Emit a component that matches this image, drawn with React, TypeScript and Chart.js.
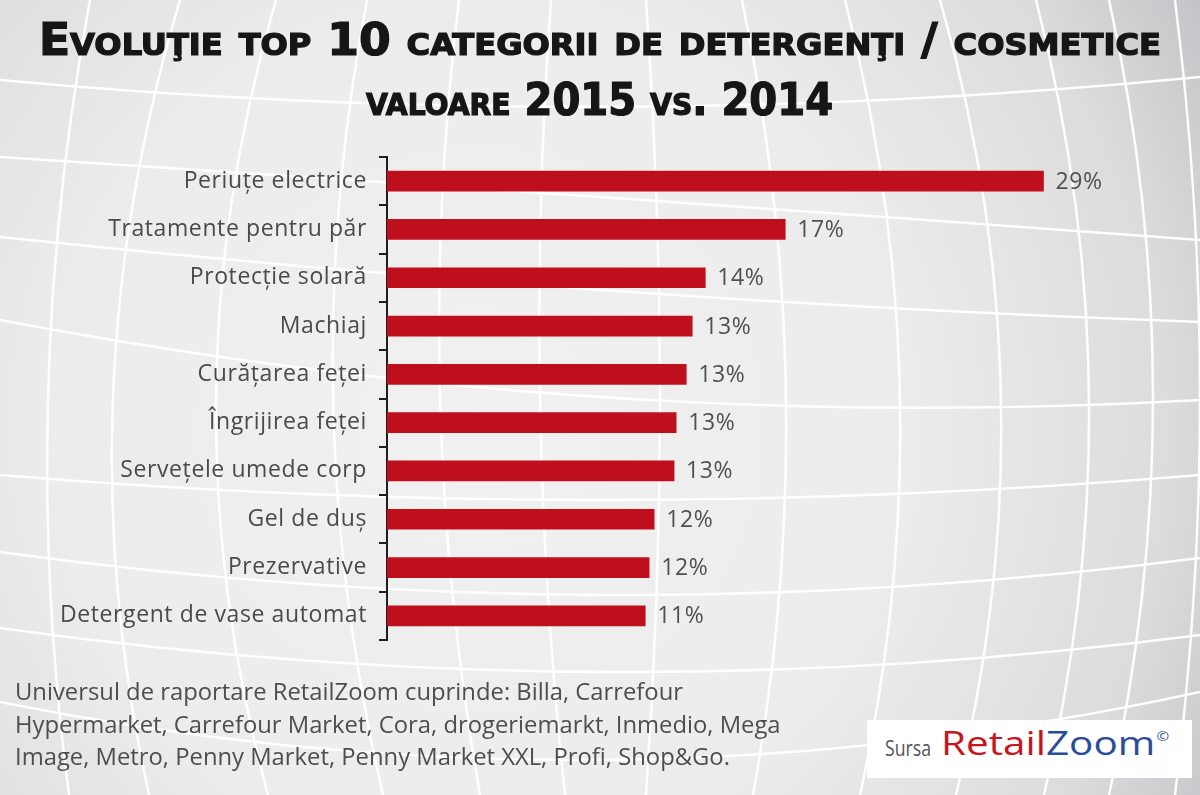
import React, { useEffect, useLayoutEffect, useRef } from "react";
import { Chart, registerables } from "chart.js";

Chart.register(...registerables);

// ---- data ----
const categories = [
  "Periuțe electrice",
  "Tratamente pentru păr",
  "Protecție solară",
  "Machiaj",
  "Curățarea feței",
  "Îngrijirea feței",
  "Servețele umede corp",
  "Gel de duș",
  "Prezervative",
  "Detergent de vase automat",
];
const values = [28.65, 17.38, 13.89, 13.32, 13.06, 12.62, 12.53, 11.66, 11.44, 11.27];
const valueLabels = ["29%", "17%", "14%", "13%", "13%", "13%", "13%", "12%", "12%", "11%"];
const titleLines = ["Evoluţie top 10 categorii de detergenţi / cosmetice", "valoare 2015 vs. 2014"];
const footnoteLines = [
  "Universul de raportare RetailZoom cuprinde: Billa, Carrefour",
  "Hypermarket, Carrefour Market, Cora, drogeriemarkt, Inmedio, Mega",
  "Image, Metro, Penny Market, Penny Market XXL, Profi, Shop&Go.",
];
const sourcePrefix = "Sursa";
const sourceBrandA = "Retail";
const sourceBrandB = "Zoom";

const LABEL_FONT = "'Open Sans', 'Noto Sans', sans-serif";

// decorative globe grid behind everything
const meridians: number[][] = [
  [90, 48, 69],
  [180, 113, 149],
  [276, 216, 268],
  [367, 333, 383],
  [459, 440, 480],
  [551, 540, 565],
  [646, 660, 646],
  [742, 786, 753],
  [845, 900, 860],
  [940, 1001, 956],
  [1036, 1089, 1044],
  [1109, 1153, 1109],
  [1175, 1200, 1175],
];
const parallels: number[][] = [
  [80, 107, 77],
  [157, 197, 240],
  [237, 290, 322],
  [320, 397, 400],
  [475, 500, 475],
  [552, 595, 558],
  [628, 672, 635],
  [702, 760, 692],
];

const backgroundPlugin = {
  id: "globeBackground",
  beforeDraw(chart: any) {
    const ctx = chart.ctx as any;
    const w = chart.width;
    const h = chart.height;
    ctx.save();
    const g = ctx.createRadialGradient(480, 430, 0, 480, 430, 860);
    g.addColorStop(0, "#f1f1f1");
    g.addColorStop(0.5, "#ececec");
    g.addColorStop(0.8, "#dcdcdd");
    g.addColorStop(1, "#bfc1c4");
    ctx.fillStyle = g;
    ctx.fillRect(0, 0, w, h);
    ctx.strokeStyle = "rgba(255,255,255,0.95)";
    ctx.lineWidth = 2.5;
    const mid = h / 2;
    meridians.forEach(([t, m, b]) => {
      const cx = 2 * m - (t + b) / 2;
      ctx.beginPath();
      ctx.moveTo(t, 0);
      ctx.quadraticCurveTo(cx, mid, b, h);
      ctx.stroke();
    });
    parallels.forEach(([l, m, r]) => {
      const cy = 2 * m - (l + r) / 2;
      ctx.beginPath();
      ctx.moveTo(0, l);
      ctx.quadraticCurveTo(w / 2, cy, w, r);
      ctx.stroke();
    });
    ctx.restore();
    // slightly wider lettering for the axis labels
    ctx.letterSpacing = "0.6px";
  },
};

const valueLabelPlugin = {
  id: "valueLabels",
  afterDatasetsDraw(chart: any) {
    const ctx = chart.ctx as any;
    const meta = chart.getDatasetMeta(0);
    ctx.save();
    ctx.letterSpacing = "0.6px";
    ctx.font = `23px ${LABEL_FONT}`;
    ctx.fillStyle = "#505050";
    ctx.textAlign = "left";
    ctx.textBaseline = "middle";
    meta.data.forEach((bar: any, i: number) => {
      ctx.fillText(valueLabels[i], bar.x + 12, bar.y + 1);
    });
    ctx.restore();
  },
};

function fitWidth(el: HTMLElement | null, target: number) {
  if (!el) return;
  const w = el.getBoundingClientRect().width;
  if (w > 0) el.style.transform = `scaleX(${target / w})`;
}

export default function App() {
  const canvasRef = useRef<HTMLCanvasElement | null>(null);
  const t1 = useRef<HTMLSpanElement | null>(null);
  const t2 = useRef<HTMLSpanElement | null>(null);
  const f1 = useRef<HTMLDivElement | null>(null);
  const s1 = useRef<HTMLSpanElement | null>(null);
  const s2 = useRef<HTMLSpanElement | null>(null);

  useLayoutEffect(() => {
    document.body.style.margin = "0";
    fitWidth(t1.current, 1122);
    fitWidth(t2.current, 467);
    if (f1.current) {
      const line = f1.current.querySelector("span") as HTMLSpanElement;
      if (line) {
        const k = 668 / line.getBoundingClientRect().width;
        f1.current.style.transform = `scaleX(${k})`;
      }
    }
    fitWidth(s1.current, 46);
    fitWidth(s2.current, 228);
  }, []);

  useEffect(() => {
    if (!canvasRef.current) return;
    const chart = new Chart(canvasRef.current, {
      type: "bar",
      data: {
        labels: categories,
        datasets: [
          {
            data: values,
            backgroundColor: "#c00f1c",
            borderWidth: 0,
            barThickness: 20,
          },
        ],
      },
      options: {
        indexAxis: "y",
        responsive: false,
        animation: false,
        devicePixelRatio: 1,
        layout: { padding: { top: 157, bottom: 155, left: 0, right: 11 } },
        plugins: {
          legend: { display: false },
          tooltip: { enabled: false },
          title: { display: false },
        },
        scales: {
          x: {
            display: false,
            min: 0,
            max: 35,
          },
          y: {
            afterFit: (scale: any) => {
              scale.width = 387;
            },
            grid: {
              display: true,
              drawOnChartArea: false,
              drawTicks: true,
              tickLength: 8,
              color: "#1e1e1e",
              lineWidth: 2,
              offset: true,
            },
            border: { display: true, color: "#1e1e1e", width: 2 },
            ticks: {
              color: "#4a4a4a",
              padding: 12,
              font: { family: LABEL_FONT, size: 23 },
            },
          },
        },
      },
      plugins: [backgroundPlugin, valueLabelPlugin],
    });
    return () => chart.destroy();
  }, []);

  return (
    <div style={{ position: "absolute", left: 0, top: 0, width: 1200, height: 795, overflow: "hidden" }}>
      <canvas ref={canvasRef} width={1200} height={795} style={{ position: "absolute", left: 0, top: 0 }} />
      <div
        style={{
          position: "absolute",
          left: 0,
          top: 10,
          width: 1200,
          textAlign: "center",
          fontFamily: "'DejaVu Sans Condensed', 'DejaVu Sans', sans-serif",
          fontWeight: 700,
          fontVariant: "small-caps",
          fontSize: 44,
          color: "#161616",
          lineHeight: "60px",
          WebkitTextStroke: "1.2px #161616",
        }}
      >
        <div>
          <span ref={t1} style={{ display: "inline-block", transformOrigin: "center", whiteSpace: "nowrap" }}>
            {titleLines[0]}
          </span>
        </div>
        <div>
          <span ref={t2} style={{ display: "inline-block", transformOrigin: "center", whiteSpace: "nowrap" }}>
            {titleLines[1]}
          </span>
        </div>
      </div>
      <div
        ref={f1}
        style={{
          position: "absolute",
          left: 15,
          top: 675,
          fontFamily: LABEL_FONT,
          fontSize: 24,
          lineHeight: "32.5px",
          color: "#4e4e4e",
          transformOrigin: "left top",
          whiteSpace: "nowrap",
        }}
      >
        {footnoteLines.map((l, i) => (
          <div key={i}>
            <span>{l}</span>
          </div>
        ))}
      </div>
      <div
        style={{
          position: "absolute",
          left: 867,
          top: 720,
          width: 325,
          height: 58,
          background: "#ffffff",
          fontFamily: "'Open Sans', 'Noto Sans', sans-serif",
          whiteSpace: "nowrap",
        }}
      >
        <span
          ref={s1}
          style={{
            position: "absolute",
            left: 18,
            top: 13,
            fontSize: 22,
            color: "#555",
            lineHeight: "28px",
            transformOrigin: "left center",
          }}
        >
          {sourcePrefix}
        </span>
        <span
          ref={s2}
          style={{
            position: "absolute",
            left: 74,
            top: 2,
            fontSize: 32,
            lineHeight: "42px",
            transformOrigin: "left center",
          }}
        >
          <span style={{ color: "#c4161c" }}>{sourceBrandA}</span>
          <span style={{ color: "#2a4d98" }}>{sourceBrandB}</span>
          <span style={{ fontSize: 12, color: "#2a4d98", position: "relative", top: -14, marginLeft: 1 }}>©</span>
        </span>
      </div>
    </div>
  );
}
